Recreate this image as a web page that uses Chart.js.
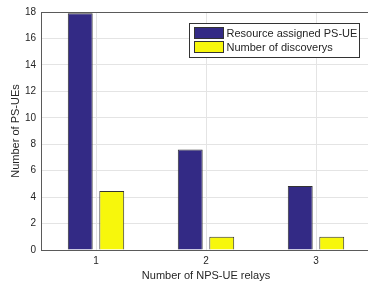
<!DOCTYPE html>
<html>
<head>
<meta charset="utf-8">
<script src="https://cdn.jsdelivr.net/npm/chart.js@4/dist/chart.umd.min.js"></script>
<style>
  html, body { margin: 0; padding: 0; background: #fff; overflow: hidden; }
  #wrap { position: relative; width: 372px; height: 283px; }
</style>
</head>
<body>
<div id="wrap"><canvas id="c"></canvas></div>
<script>
const relays = ['1', '2', '3'];
const assigned = [17.9, 7.6, 4.84];
const discoveries = [4.47, 1, 1];
const yTicks = [0, 2, 4, 6, 8, 10, 12, 14, 16, 18];

const FONT = "'Liberation Sans', Arial, sans-serif";
const TXT = '#262626';

// legend drawn inside the plot, MATLAB style, plus the box frame
const boxLegend = {
    id: 'boxLegend',
    afterDraw(chart) {
        const ctx = chart.ctx, a = chart.chartArea;
        ctx.save();
        ctx.strokeStyle = '#5a5a5a'; ctx.lineWidth = 1;
        ctx.beginPath();
        ctx.moveTo(a.left, a.top + 0.5); ctx.lineTo(a.right, a.top + 0.5);
        ctx.lineTo(a.right - 0.5, a.bottom);
        ctx.stroke();

        const x = 189.5, y = 23.5, w = 170, h = 34;
        ctx.fillStyle = '#fff'; ctx.fillRect(x, y, w, h);
        ctx.strokeStyle = '#333'; ctx.strokeRect(x, y, w, h);
        ctx.font = '11px ' + FONT; ctx.textBaseline = 'middle';
        chart.data.datasets.forEach((ds, i) => {
            const ry = y + 4 + i * 14;
            ctx.fillStyle = ds.backgroundColor;
            ctx.fillRect(x + 5, ry, 29, 11);
            ctx.strokeStyle = '#333';
            ctx.strokeRect(x + 5, ry, 29, 11);
            ctx.fillStyle = TXT;
            ctx.fillText(ds.label, x + 37, ry + 6);
        });
        ctx.restore();
    }
};

new Chart(document.getElementById('c'), {
    type: 'bar',
    data: {
        labels: relays,
        datasets: [
            { label: 'Resource assigned PS-UE', data: assigned, backgroundColor: '#332a85', borderColor: '#333', borderWidth: 1 },
            { label: 'Number of discoverys', data: discoveries, backgroundColor: '#f7f70c', borderColor: '#333', borderWidth: 1 }
        ]
    },
    options: {
        responsive: true,
        maintainAspectRatio: false,
        animation: false,
        categoryPercentage: 0.573,
        barPercentage: 0.79,
        layout: { padding: { top: 12, right: 1, left: 0, bottom: 0 } },
        plugins: { legend: { display: false }, tooltip: { enabled: false } },
        scales: {
            x: {
                grid: { offset: false, color: '#e4e4e4', tickLength: 0 },
                border: { color: '#5a5a5a' },
                ticks: { color: TXT, font: { family: FONT, size: 10 }, padding: 5 },
                title: { display: true, text: 'Number of NPS-UE relays', color: TXT, font: { family: FONT, size: 11 }, padding: { top: 2, bottom: 0 } },
                afterFit: ax => { ax.height = 33; }
            },
            y: {
                min: 0, max: 18,
                afterBuildTicks: ax => { ax.ticks = yTicks.map(v => ({ value: v })); },
                grid: { color: '#e4e4e4', tickLength: 0 },
                border: { color: '#5a5a5a' },
                ticks: { color: TXT, font: { family: FONT, size: 10 }, padding: 5 },
                title: { display: true, text: 'Number of PS-UEs', color: TXT, font: { family: FONT, size: 11 }, padding: { top: 9, bottom: 4 } },
                afterFit: ax => { ax.width = 41; }
            }
        }
    },
    plugins: [boxLegend]
});
</script>
</body>
</html>
